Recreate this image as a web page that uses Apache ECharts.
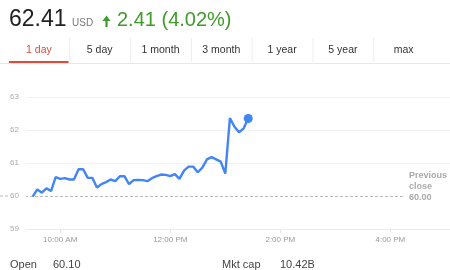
<!DOCTYPE html>
<html><head><meta charset="utf-8">
<script src="https://cdn.jsdelivr.net/npm/echarts@6/dist/echarts.min.js"></script>
<style>html,body{margin:0;padding:0;background:#fff}#c{width:450px;height:270px}</style>
</head><body><div id="c"></div>
<script>
// ---- data ----
const times = ['9:30','9:35','9:40','9:45','9:50','9:55','10:00','10:05','10:10','10:15','10:20','10:25',
  '10:30','10:35','10:40','10:45','10:50','10:55','11:00','11:05','11:10','11:15','11:20','11:25',
  '11:30','11:35','11:40','11:45','11:50','11:55','12:00','12:05','12:10','12:15','12:20','12:25',
  '12:30','12:35','12:40','12:45','12:50','12:55','13:00','13:05','13:10','13:15','13:20','13:25'];
const prices = [59.98,60.2,60.1,60.23,60.15,60.57,60.52,60.54,60.5,60.5,60.81,60.81,
  60.55,60.55,60.26,60.36,60.42,60.5,60.45,60.6,60.6,60.36,60.48,60.49,
  60.48,60.45,60.54,60.6,60.65,60.64,60.6,60.66,60.52,60.77,60.89,60.89,
  60.72,60.86,61.11,61.18,61.11,61.04,60.68,62.36,62.1,61.93,62.05,62.35];
const tickTimes = ['10:00','12:00','14:00','16:00'];
const tickLabels = ['10:00 AM','12:00 PM','2:00 PM','4:00 PM'];
const yTicks = [59,60,61,62,63];
const previousClose = 60.00;
const lastPrice = '62.41', currency = 'USD', change = '2.41 (4.02%)';
const tabs = ['1 day','5 day','1 month','3 month','1 year','5 year','max'];
const stats = [['Open','60.10'],['Mkt cap','10.42B']];

const toMin = s => { const [h,m] = s.split(':').map(Number); return h*60+m; };
const series = times.map((t,i) => [toMin(t), prices[i]]);
const tickMins = tickTimes.map(toMin);
const X_MIN = 561.6, X_MAX = 1025, REF_END = 976;
const FONT = '"Liberation Sans", Arial, Helvetica, sans-serif';
const GREEN = '#3f9b2a';

const graphic = [];
// header
graphic.push({type:'text', x:9, y:20, style:{text:lastPrice, font:'23px '+FONT, fill:'#222', verticalAlign:'middle'}});
graphic.push({type:'text', x:72, y:23.5, style:{text:currency, font:'10px '+FONT, fill:'#777', verticalAlign:'middle'}});
graphic.push({type:'polygon', shape:{points:[[102.5,21],[106.5,15.5],[110.5,21]]}, style:{fill:GREEN}});
graphic.push({type:'rect', shape:{x:105.4, y:20.5, width:2.2, height:6.5}, style:{fill:GREEN}});
graphic.push({type:'text', x:117, y:20, style:{text:change, font:'20px '+FONT, fill:GREEN, verticalAlign:'middle'}});
// tabs
const tabStart = 8.5, tabW = 60.8;
tabs.forEach((t,i) => {
  graphic.push({type:'text', x: tabStart + tabW*(i+0.5), y:50.5,
    style:{text:t, font:'10.5px '+FONT, fill: i===0 ? '#dd4b39' : '#333', align:'center', verticalAlign:'middle'}});
  if (i < tabs.length-1) graphic.push({type:'line', shape:{x1:tabStart+tabW*(i+1)+0.5, y1:38, x2:tabStart+tabW*(i+1)+0.5, y2:62}, style:{stroke:'#eeeeee', lineWidth:1}});
});
graphic.push({type:'line', shape:{x1:0, y1:63.5, x2:450, y2:63.5}, style:{stroke:'#e8e8e8', lineWidth:1}});
graphic.push({type:'rect', shape:{x:9, y:61, width:59.5, height:2}, style:{fill:'#dd4b39'}});
// footer
graphic.push({type:'text', x:10, y:265, style:{text:stats[0][0], font:'11px '+FONT, fill:'#444', verticalAlign:'middle'}});
graphic.push({type:'text', x:53, y:265, style:{text:stats[0][1], font:'11px '+FONT, fill:'#444', verticalAlign:'middle'}});
graphic.push({type:'text', x:222, y:265, style:{text:stats[1][0], font:'11px '+FONT, fill:'#444', verticalAlign:'middle'}});
graphic.push({type:'text', x:280, y:265, style:{text:stats[1][1], font:'11px '+FONT, fill:'#444', verticalAlign:'middle'}});

const chart = echarts.init(document.getElementById('c'), null, {renderer:'canvas'});
const option = {
  animation:false,
  backgroundColor:'#fff',
  textStyle:{fontFamily:FONT},
  grid:{left:25, right:0, top:97, bottom:41},
  xAxis:{type:'value', min:X_MIN, max:X_MAX,
    axisLine:{show:false},
    splitLine:{show:false},
    axisTick:{show:true, customValues:tickMins, length:4, lineStyle:{color:'#e6e6e6'}},
    axisLabel:{customValues:tickMins, color:'#999', fontSize:8, margin:7,
      formatter: v => tickLabels[tickMins.indexOf(v)] || ''}
  },
  yAxis:{type:'value', min:yTicks[0], max:yTicks[yTicks.length-1], interval:1,
    axisLine:{show:false}, axisTick:{show:false},
    splitLine:{lineStyle:{color:['#ececec','rgba(0,0,0,0)','#f1f1f1','#f1f1f1','#f1f1f1'], width:1}},
    axisLabel:{color:'#aaa', fontSize:8, align:'left', margin:17, backgroundColor:'#fff', padding:[0,7,0,2]},
    z:2
  },
  series:[{
    type:'line', data:series, z:3,
    showSymbol:true, showAllSymbol:true, symbol:'circle',
    symbolSize:(v,p) => p.dataIndex === series.length-1 ? 9 : 0,
    lineStyle:{color:'#4285f4', width:2.4},
    itemStyle:{color:'#4285f4'},
    emphasis:{disabled:true},
    markLine:{silent:true, symbol:'none', z:1, animation:false,
      lineStyle:{color:'#bbb', width:1, type:[3,2]},
      label:{show:true, position:'end', distance:4,
        formatter:'Previous\nclose\n' + previousClose.toFixed(2) + '\n{s| }',
        rich:{s:{lineHeight:18, fontSize:1}},
        color:'#aaa', fontWeight:'bold', fontSize:9, lineHeight:11, align:'left'},
      data:[[{coord:[X_MIN, previousClose]},{coord:[REF_END, previousClose]}]]
    }
  }],
  graphic: graphic
};
chart.setOption(option);
// dashed continuation of the previous-close line to the left of the plot area
const p0 = chart.convertToPixel({gridIndex:0}, [X_MIN, previousClose]);
graphic.push({type:'line', z:1, shape:{x1:0, y1:p0[1], x2:p0[0], y2:p0[1]},
  style:{stroke:'#bbb', lineWidth:1, lineDash:[3,2]}});
chart.setOption({graphic: graphic});
</script></body></html>
